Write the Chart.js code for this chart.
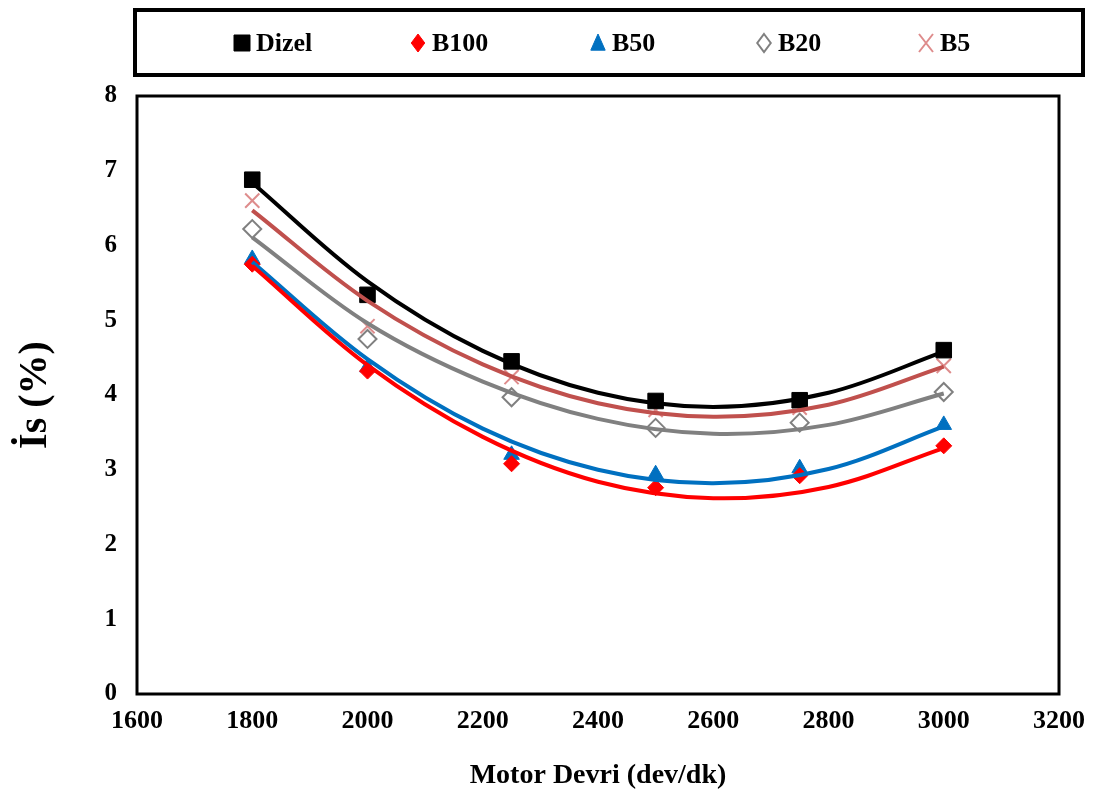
<!DOCTYPE html>
<html>
<head>
<meta charset="utf-8">
<script src="https://cdn.jsdelivr.net/npm/chart.js"></script>
<style>
  body { margin: 0; background: #fff; }
</style>
</head>
<body>
<canvas id="myChart" width="1097" height="797"></canvas>
<script>
// measured points (motor speed, rpm)
const rpm = [1800, 2000, 2250, 2500, 2750, 3000];
const dizel = [6.88, 5.34, 4.45, 3.92, 3.93, 4.60];
const b100 = [5.75, 4.32, 3.08, 2.76, 2.92, 3.32];
const b50 = [5.82, 4.37, 3.20, 2.94, 3.02, 3.60];
const b20 = [6.22, 4.75, 3.97, 3.56, 3.63, 4.04];
const b5 = [6.60, 4.92, 4.24, 3.80, 3.83, 4.39];

// trend curves
const trendRpm = [1800, 2000, 2200, 2400, 2600, 2800, 3000];
const dizelTrend = [6.84, 5.52, 4.59, 4.03, 3.84, 4.03, 4.58];
const b100Trend = [5.73, 4.40, 3.44, 2.84, 2.62, 2.77, 3.29];
const b50Trend = [5.78, 4.48, 3.55, 3.00, 2.82, 3.01, 3.58];
const b20Trend = [6.11, 4.96, 4.18, 3.68, 3.48, 3.60, 4.02];
const b5Trend = [6.47, 5.26, 4.41, 3.89, 3.71, 3.87, 4.38];

const xTicks = [1600, 1800, 2000, 2200, 2400, 2600, 2800, 3000, 3200];
const yTicks = [0, 1, 2, 3, 4, 5, 6, 7, 8];

const FONT = "'Liberation Serif', 'Times New Roman', serif";

const pts = (xs, ys) => xs.map((x, i) => ({ x: x, y: ys[i] }));

const markerSet = (label, vals, style, color, fill, radius, bw) => ({
  label: label,
  data: pts(rpm, vals),
  showLine: false,
  pointStyle: style,
  pointRadius: radius,
  pointHoverRadius: radius,
  pointBackgroundColor: fill,
  pointBorderColor: color,
  pointBorderWidth: bw,
  legendItem: true,
  order: 1
});

const trendSet = (vals, color) => ({
  label: '',
  data: pts(trendRpm, vals),
  showLine: true,
  borderColor: color,
  borderWidth: 4,
  pointRadius: 0,
  tension: 0.35,
  fill: false,
  order: 0
});

const datasets = [
  markerSet('Dizel', dizel, 'rect', '#000000', '#000000', 11, 1),
  markerSet('B100', b100, 'rectRot', '#FF0000', '#FF0000', 8, 1),
  markerSet('B50', b50, 'triangle', '#0070C0', '#0070C0', 9, 1),
  markerSet('B20', b20, 'rectRot', '#808080', '#FFFFFF', 9, 2),
  markerSet('B5', b5, 'crossRot', '#DE8C8C', '#DE8C8C', 10, 2),
  trendSet(dizelTrend, '#000000'),
  trendSet(b100Trend, '#FF0000'),
  trendSet(b50Trend, '#0070C0'),
  trendSet(b20Trend, '#808080'),
  trendSet(b5Trend, '#C0504D')
];

// legend box and plot frame
const legendTextX = [256, 432, 612, 778, 940];
const framePlugin = {
  id: 'frame',
  afterDraw(chart) {
    const ctx = chart.ctx;
    const a = chart.chartArea;
    ctx.save();
    ctx.strokeStyle = '#000';
    ctx.lineWidth = 3;
    ctx.strokeRect(a.left, a.top, a.right - a.left, a.bottom - a.top);

    ctx.lineWidth = 4;
    ctx.strokeRect(135, 10, 948, 65);

    ctx.font = 'bold 26px ' + FONT;
    ctx.textBaseline = 'middle';
    ctx.textAlign = 'left';
    const items = chart.data.datasets.filter(d => d.legendItem);
    items.forEach((d, i) => {
      const tx = legendTextX[i];
      const mx = tx - 14;
      const my = 43;
      const r = 9;
      ctx.fillStyle = d.pointBackgroundColor;
      ctx.strokeStyle = d.pointBorderColor;
      ctx.lineWidth = d.pointBorderWidth;
      ctx.beginPath();
      if (d.pointStyle === 'rect') {
        ctx.rect(mx - 8, my - 8, 16, 16);
      } else if (d.pointStyle === 'rectRot') {
        ctx.moveTo(mx, my - r); ctx.lineTo(mx + r * 0.75, my);
        ctx.lineTo(mx, my + r); ctx.lineTo(mx - r * 0.75, my); ctx.closePath();
      } else if (d.pointStyle === 'triangle') {
        ctx.moveTo(mx, my - r); ctx.lineTo(mx + r * 0.8, my + r * 0.8);
        ctx.lineTo(mx - r * 0.8, my + r * 0.8); ctx.closePath();
      } else {
        ctx.moveTo(mx - 7, my - 9); ctx.lineTo(mx + 7, my + 9);
        ctx.moveTo(mx + 7, my - 9); ctx.lineTo(mx - 7, my + 9);
      }
      if (d.pointStyle !== 'crossRot') ctx.fill();
      ctx.stroke();
      ctx.fillStyle = '#000';
      ctx.fillText(d.label, tx, my + 1);
    });
    ctx.restore();
  }
};

const config = {
  type: 'scatter',
  data: { datasets: datasets },
  options: {
    responsive: false,
    animation: false,
    devicePixelRatio: 1,
    layout: { padding: { top: 96, right: 36, left: 0, bottom: 0 } },
    plugins: {
      legend: { display: false },
      tooltip: { enabled: false }
    },
    scales: {
      x: {
        type: 'linear',
        min: 1600,
        max: 3200,
        afterBuildTicks: (s) => { s.ticks = xTicks.map(v => ({ value: v })); },
        afterFit: (s) => { s.height = 103; },
        grid: { display: false, drawTicks: false },
        border: { display: false },
        ticks: {
          padding: 12,
          color: '#000',
          font: { family: FONT, size: 26, weight: 'bold' },
          maxRotation: 0,
          callback: (v) => String(v)
        },
        title: {
          display: true,
          text: 'Motor Devri (dev/dk)',
          color: '#000',
          font: { family: FONT, size: 28, weight: 'bold' },
          padding: { top: 0, bottom: 4 }
        }
      },
      y: {
        min: 0,
        max: 8,
        afterBuildTicks: (s) => { s.ticks = yTicks.map(v => ({ value: v })); },
        afterFit: (s) => { s.width = 137; },
        grid: { display: false, drawTicks: false },
        border: { display: false },
        ticks: {
          padding: 20,
          color: '#000',
          font: { family: FONT, size: 25, weight: 'bold' },
          callback: (v) => String(v)
        },
        title: {
          display: true,
          text: 'İs (%)',
          color: '#000',
          font: { family: FONT, size: 40, weight: 'bold' },
          padding: { top: 12, bottom: 0 }
        }
      }
    }
  },
  plugins: [framePlugin]
};

var myChart = new Chart(document.getElementById('myChart'), config);
</script>
</body>
</html>
